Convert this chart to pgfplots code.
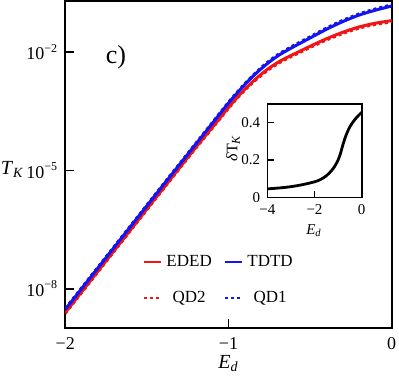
\documentclass[border=0pt]{standalone}
\usepackage{fontspec}
\setmainfont{Liberation Serif}
\usepackage{pgfplots}
\usepackage{pgfplotstable}
\pgfplotsset{compat=1.18}

\definecolor{edred}{RGB}{240,20,20}
\definecolor{tdblue}{RGB}{20,20,240}

% log10(T_K)
\pgfplotstableread{
E      eded    tdtd    qd2     qd1
-2.0   -8.60   -8.52   -8.62   -8.50
-1.8   -7.55   -7.47   -7.57   -7.45
-1.6   -6.50   -6.42   -6.52   -6.40
-1.4   -5.45   -5.37   -5.47   -5.35
-1.2   -4.41   -4.33   -4.43   -4.31
-1.1   -3.91   -3.81   -3.93   -3.79
-1.0   -3.40   -3.29   -3.42   -3.27
-0.95  -3.16   -3.05   -3.18   -3.03
-0.9   -2.94   -2.82   -2.965  -2.80
-0.85  -2.74   -2.61   -2.765  -2.59
-0.8   -2.56   -2.42   -2.59   -2.395
-0.75  -2.40   -2.25   -2.43   -2.22
-0.7   -2.265  -2.10   -2.295  -2.07
-0.65  -2.15   -1.975  -2.18   -1.945
-0.6   -2.05   -1.86   -2.08   -1.83
-0.5   -1.85   -1.64   -1.88   -1.61
-0.4   -1.66   -1.42   -1.69   -1.39
-0.3   -1.495  -1.225  -1.525  -1.195
-0.2   -1.36   -1.06   -1.39   -1.03
-0.1   -1.265  -0.935  -1.295  -0.905
0.0    -1.20   -0.83   -1.23   -0.80
}\tkmain

\pgfplotstableread{
E      dT
-4.0   0.045
-3.5   0.050
-3.0   0.057
-2.5   0.068
-2.0   0.083
-1.75  0.095
-1.5   0.115
-1.3   0.140
-1.15  0.165
-1.0   0.200
-0.9   0.235
-0.8   0.280
-0.7   0.320
-0.6   0.352
-0.5   0.378
-0.4   0.398
-0.3   0.415
-0.2   0.430
-0.1   0.443
0.0    0.455
}\tkinset

\begin{document}
\begin{tikzpicture}
\useasboundingbox (-32.65pt,-25.85pt) rectangle (166.85pt,164.15pt);
\begin{axis}[
    at={(0pt,0pt)}, anchor=south west,
    scale only axis,
    width=163.2pt, height=163.5pt,
    clip mode=individual,
    xmin=-2, xmax=0, ymin=-9, ymax=-0.71,
    xtick={-2,-1,0}, xticklabels={−2,−1,0},
    ytick={-8,-5,-2},
    yticklabels={10\textsuperscript{−8},10\textsuperscript{−5},10\textsuperscript{−2}},
    tick align=inside, xtick pos=bottom, ytick pos=left,
    major tick length=4.5pt,
    axis line style={line width=1pt},
    every tick/.style={black, line width=0.8pt},
    tick label style={font=\fontsize{9}{10}\selectfont},
    xticklabel style={yshift=-1.2pt},
    legend columns=2,
    legend image code/.code={\draw[#1] (0pt,0pt) -- (8.7pt,0pt);},
    legend style={draw=none, fill=none, anchor=north west,
        at={(axis description cs:0.218,0.25)},
        font=\fontsize{8.5}{9}\selectfont,
        row sep=7pt,
        /tikz/every even column/.append style={column sep=4pt}},
]
\addplot[edred, line width=1.5pt, smooth, forget plot] table[x=E, y=eded] {\tkmain};
\addplot[edred, line width=1.5pt, smooth, dash pattern=on 1.5pt off 1.5pt, forget plot] table[x=E, y=qd2] {\tkmain};
\addplot[tdblue, line width=1.5pt, smooth, forget plot] table[x=E, y=tdtd] {\tkmain};
\addplot[tdblue, line width=1.5pt, smooth, dash pattern=on 1.5pt off 1.5pt, forget plot] table[x=E, y=qd1] {\tkmain};

\addlegendimage{edred, line width=1.1pt}
\addlegendentry{EDED}
\addlegendimage{tdblue, line width=1.1pt}
\addlegendentry{TDTD}
\addlegendimage{edred, line width=1.1pt, dash pattern=on 1.5pt off 1.5pt}
\addlegendentry{QD2}
\addlegendimage{tdblue, line width=1.1pt, dash pattern=on 1.5pt off 1.5pt}
\addlegendentry{QD1}

\node[font=\fontsize{13}{14}\selectfont] at (axis description cs:0.155,0.83) {c)};
\node[font=\fontsize{10}{11}\selectfont] at (axis description cs:-0.162,0.485) {\textit{T}\textsubscript{\textit{K}}};
\node[font=\fontsize{10}{11}\selectfont] at (axis description cs:0.5,-0.108) {\textit{E}\textsubscript{\textit{d}}};
\end{axis}

\begin{axis}[
    at={(101pt,65.5pt)}, anchor=south west,
    scale only axis,
    width=47.2pt, height=46.65pt,
    clip mode=individual,
    xmin=-4, xmax=0, ymin=0, ymax=0.5,
    xtick={-4,-2,0}, xticklabels={−4,−2,0},
    ytick={0,0.2,0.4}, yticklabels={0,0.2,0.4},
    tick align=inside, xtick pos=bottom, ytick pos=left,
    major tick length=3.4pt,
    axis line style={line width=0.8pt},
    every tick/.style={black, line width=0.7pt},
    tick label style={font=\fontsize{7.5}{8}\selectfont},
]
\addplot[black, line width=1.4pt, smooth] table[x=E, y=dT] {\tkinset};
\node[rotate=90, font=\fontsize{8}{9}\selectfont] at (axis description cs:-0.363,0.528) {\textit{δ}T\textsubscript{\textit{K}}};
\node[font=\fontsize{7.5}{8}\selectfont] at (axis description cs:0.495,-0.36) {\textit{E}\textsubscript{\textit{d}}};
\end{axis}
\end{tikzpicture}
\end{document}
